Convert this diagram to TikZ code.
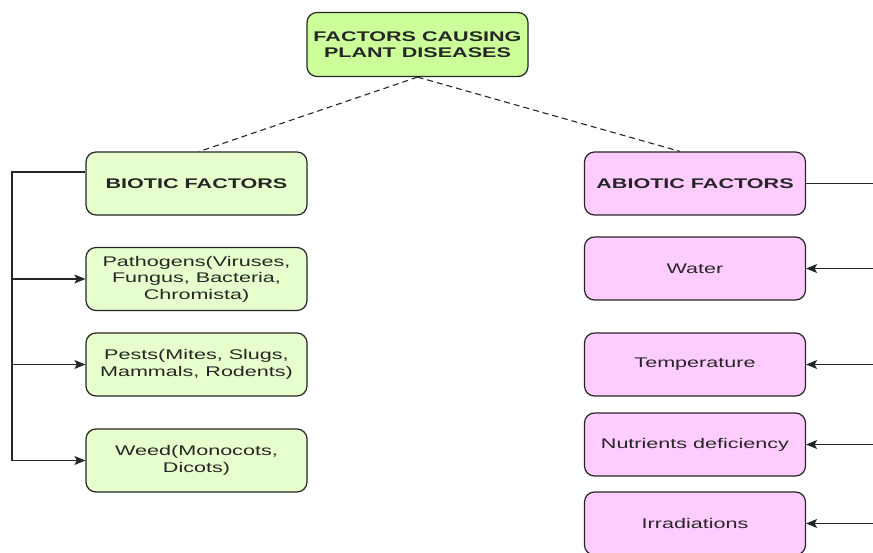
\documentclass[tikz,border=0pt]{standalone}
\usepackage{fontspec}
\setmainfont[FakeStretch=1.54]{Liberation Sans}
\usetikzlibrary{arrows.meta}
\definecolor{topgreen}{HTML}{CCFF99}
\definecolor{lightgreen}{HTML}{E6FFCC}
\definecolor{pinkbox}{HTML}{FFCCFF}
\definecolor{edge}{HTML}{262626}
\tikzset{
  box/.style={draw=edge, line width=1.2pt, rounded corners=10pt, minimum width=221pt, minimum height=63pt,
    inner sep=0pt, align=center, font=\fontsize{14}{16.5}\selectfont, text=black!85},
  gbox/.style={box, fill=lightgreen},
  pbox/.style={box, fill=pinkbox},
  hdr/.style={font=\fontsize{14}{16.5}\selectfont\bfseries},
  conn/.style={draw=edge, line width=1.1pt},
  arr/.style={conn, -{Stealth[length=11pt,width=9pt,inset=2.5pt]}},
  dashlink/.style={draw=edge, line width=1.1pt, dash pattern=on 6pt off 4pt}
}
\begin{document}
\begin{tikzpicture}[x=1pt,y=-1pt]
\useasboundingbox (0,0) rectangle (873,553);
\node[box, fill=topgreen, hdr, minimum height=64pt] (top) at (417.5,44.5) {FACTORS CAUSING\\PLANT DISEASES};
\node[gbox, hdr] (bio) at (196.5,183.5) {BIOTIC FACTORS};
\node[pbox, hdr] (abio) at (695,183.5) {ABIOTIC FACTORS};
\node[gbox] (path) at (196.5,279) {Pathogens(Viruses,\\Fungus, Bacteria,\\Chromista)};
\node[gbox] (pest) at (196.5,364.5) {Pests(Mites, Slugs,\\Mammals, Rodents)};
\node[gbox] (weed) at (196.5,460.5) {Weed(Monocots,\\Dicots)};
\node[pbox] (water) at (695,268.5) {Water};
\node[pbox] (temp) at (695,364.5) {Temperature};
\node[pbox] (nutr) at (695,444.5) {Nutrients deficiency};
\node[pbox] (irr) at (695,523.5) {Irradiations};
% dashed links
\draw[dashlink] (top.south) -- ([xshift=3pt]bio.north);
\draw[dashlink] (top.south) -- ([xshift=-15pt]abio.north);
% left bus
\coordinate (lbus) at (12,172);
\coordinate (lend) at (12,460.5);
\draw[conn] ([yshift=11.5pt]bio.west) -- (lbus) -- (lend);
\draw[arr] (lbus |- path.west) -- (path.west);
\draw[arr] (lbus |- pest.west) -- (pest.west);
\draw[arr] (lend) -- (weed.west);
% right bus
\coordinate (rbus) at (873,183.5);
\draw[conn] (abio.east) -- (rbus);
\draw[arr] (rbus |- water.east) -- (water.east);
\draw[arr] (rbus |- temp.east) -- (temp.east);
\draw[arr] (rbus |- nutr.east) -- (nutr.east);
\draw[arr] (rbus |- irr.east) -- (irr.east);
\end{tikzpicture}
\end{document}
